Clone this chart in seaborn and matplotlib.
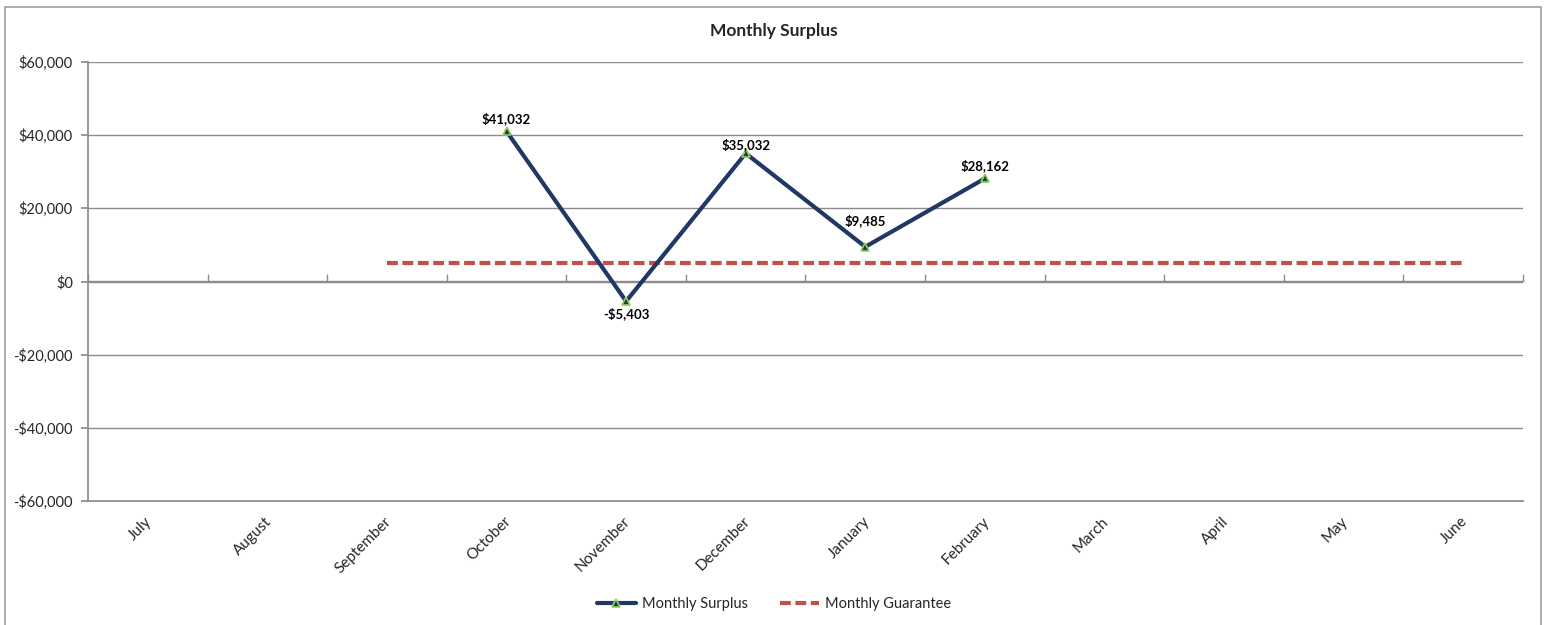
import numpy as np
import pandas as pd
import matplotlib.pyplot as plt
import matplotlib.patches as patches
from matplotlib.lines import Line2D
from matplotlib.ticker import FuncFormatter
import seaborn as sns

# Data
months = ["July", "August", "September", "October", "November", "December",
          "January", "February", "March", "April", "May", "June"]
surplus = [np.nan, np.nan, np.nan, 41032, -5403, 35032, 9485, 28162,
           np.nan, np.nan, np.nan, np.nan]
guarantee = [np.nan, np.nan, 5125, 5125, 5125, 5125, 5125, 5125,
             5125, 5125, 5125, 5125]
y_ticks = [-60000, -40000, -20000, 0, 20000, 40000, 60000]

# vertical offset (points) of each data label from its marker
label_offsets = [0, 0, 0, 9, -9, 6, 19, 9, 0, 0, 0, 0]

NAVY = "#1F3864"
RED = "#C0504D"
GREEN = "#92D050"
GRID = "#8C8C8C"

sns.set_theme(style="white")
plt.rcParams["font.family"] = ["Lato", "DejaVu Sans"]
plt.rcParams["axes.edgecolor"] = GRID

df = pd.DataFrame({"pos": np.arange(len(months)), "month": months,
                   "surplus": surplus, "guarantee": guarantee})

fig = plt.figure(figsize=(15.48, 6.25), dpi=100)
ax = fig.add_axes([88 / 1548, 1 - 501 / 625, (1523 - 88) / 1548, (501 - 62) / 625])

sns.lineplot(data=df.dropna(subset=["guarantee"]), x="pos", y="guarantee", ax=ax,
             color=RED, linewidth=3, zorder=3)
ax.lines[-1].set_dashes((2.6, 1.1))
sns.lineplot(data=df.dropna(subset=["surplus"]), x="pos", y="surplus", ax=ax,
             color=NAVY, linewidth=3, marker="^", markersize=6,
             markerfacecolor=NAVY, markeredgecolor=GREEN, markeredgewidth=1.2,
             zorder=4)

# data labels
for p, v, off in zip(df["pos"], df["surplus"], label_offsets):
    if np.isnan(v):
        continue
    txt = f"${v:,.0f}" if v >= 0 else f"-${abs(v):,.0f}"
    ax.annotate(txt, (p, v), xytext=(0, off), textcoords="offset points",
                ha="center", va="center",
                fontsize=9.5, fontweight="bold", color="black", zorder=5)

ax.set_xlim(-0.5, len(months) - 0.5)
ax.set_ylim(-60000, 60000)
ax.set_yticks(y_ticks)
ax.yaxis.set_major_formatter(FuncFormatter(
    lambda v, _: f"${v:,.0f}" if v >= 0 else f"-${abs(v):,.0f}"))
ax.tick_params(axis="y", length=5, direction="out", color=GRID, labelsize=10.5,
               pad=6, left=True)
ax.grid(axis="y", color=GRID, linewidth=1)
ax.set_axisbelow(True)

# category labels at the bottom, no tick marks
ax.set_xticks(df["pos"])
ax.set_xticklabels([])
ax.tick_params(axis="x", length=0)
for p, m in zip(df["pos"], months):
    ax.text(p + 0.06, -0.03, m, transform=ax.get_xaxis_transform(),
            rotation=45, ha="right", va="top", fontsize=11)

for s in ["top", "right"]:
    ax.spines[s].set_visible(False)
ax.spines["left"].set_color(GRID)
ax.spines["bottom"].set_color(GRID)
ax.set_xlabel("")
ax.set_ylabel("")

# horizontal axis crossing at zero, ticks between categories
sec = ax.secondary_xaxis(0.5)
sec.set_xticks(np.arange(len(months) + 1) - 0.5)
sec.set_xticklabels([])
sec.tick_params(axis="x", length=5, direction="out", color=GRID, width=1)
for s in sec.spines.values():
    s.set_color(GRID)
    s.set_linewidth(1)

fig.text(0.5, 1 - 31 / 625, "Monthly Surplus", ha="center", va="center",
         fontsize=12.5, fontweight="bold")

handles = [
    Line2D([], [], color=NAVY, linewidth=3, marker="^", markersize=6,
           markerfacecolor=NAVY, markeredgecolor=GREEN, markeredgewidth=1.2),
    Line2D([], [], color=RED, linewidth=3, dashes=(2.6, 1.1)),
]
fig.legend(handles, ["Monthly Surplus", "Monthly Guarantee"], loc="center",
           bbox_to_anchor=(0.5, 1 - 604 / 625), ncol=2, frameon=False,
           fontsize=10.5, handlelength=2.7, columnspacing=2.2, handletextpad=0.4)

# outer chart border
fig.patches.append(patches.Rectangle((5 / 1548, -0.02), (1541 - 5) / 1548,
                                     1 - 7 / 625 + 0.02, transform=fig.transFigure,
                                     fill=False, edgecolor="#A0A0A0", linewidth=1.2))

plt.savefig("out.png", dpi=100)
plt.close()
